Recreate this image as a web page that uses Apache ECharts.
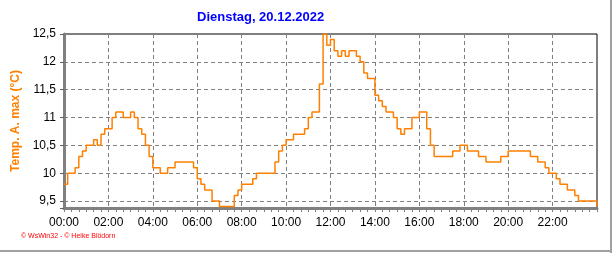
<!DOCTYPE html>
<html>
<head>
<meta charset="utf-8">
<script src="https://cdn.jsdelivr.net/npm/echarts@6/dist/echarts.min.js"></script>
<style>
html,body{margin:0;padding:0;background:#fff;}
#chart{width:616px;height:253px;}
</style>
</head>
<body>
<div id="chart"></div>
<script>
// Title and labels
const titleText = 'Dienstag, 20.12.2022';
const yAxisName = 'Temp. A. max (°C)';
const footerText = '© WsWin32 - © Heike Blödorn';

// Categories: time of day in 10-minute steps, 00:00 .. 24:00
const categories = [];
for (let h = 0; h <= 24; h++) {
  for (let m = 0; m < 60; m += 10) {
    if (h === 24 && m > 0) break;
    categories.push(String(h).padStart(2, '0') + ':' + String(m).padStart(2, '0'));
  }
}

// Temperature values (°C), one per 10 minutes
const tempMax = [
  9.8, 10.0, 10.0, 10.1, 10.3, 10.4, 10.5, 10.5, 10.6, 10.5, 10.7, 10.8,   // 00:00-01:50
  10.8, 11.0, 11.1, 11.1, 11.0, 11.0, 11.1, 11.0, 10.8, 10.7, 10.5, 10.3, // 02:00-03:50
  10.1, 10.1, 10.0, 10.0, 10.1, 10.1, 10.2, 10.2, 10.2, 10.2, 10.2, 10.1, // 04:00-05:50
  9.9, 9.8, 9.7, 9.7, 9.5, 9.5, 9.4, 9.4, 9.4, 9.4, 9.6, 9.7,             // 06:00-07:50
  9.8, 9.8, 9.8, 9.9, 10.0, 10.0, 10.0, 10.0, 10.0, 10.2, 10.4, 10.5,     // 08:00-09:50
  10.6, 10.6, 10.7, 10.7, 10.7, 10.8, 11.0, 11.1, 11.1, 11.6, 12.5, 12.3, // 10:00-11:50
  12.4, 12.2, 12.1, 12.2, 12.1, 12.2, 12.2, 12.1, 12.0, 11.8, 11.7, 11.7, // 12:00-13:50
  11.4, 11.3, 11.2, 11.1, 11.1, 11.0, 10.8, 10.7, 10.8, 10.8, 11.0, 11.0, // 14:00-15:50
  11.1, 11.1, 10.8, 10.5, 10.3, 10.3, 10.3, 10.3, 10.3, 10.4, 10.4, 10.5, // 16:00-17:50
  10.5, 10.4, 10.4, 10.4, 10.3, 10.3, 10.2, 10.2, 10.2, 10.2, 10.3, 10.3, // 18:00-19:50
  10.4, 10.4, 10.4, 10.4, 10.4, 10.4, 10.3, 10.3, 10.2, 10.2, 10.1, 10.0, // 20:00-21:50
  10.0, 9.9, 9.8, 9.8, 9.7, 9.7, 9.6, 9.5, 9.5, 9.5, 9.5, 9.5,             // 22:00-23:50
  9.4                                                                      // 24:00
];

// Axis settings
const yMin = 9.375;
const yMax = 12.5;

const chart = echarts.init(document.getElementById('chart'), null, {renderer: 'canvas'});

const font = '"Liberation Sans", Arial, sans-serif';

function fmtY(v) {
  if (Math.abs(v * 2 - Math.round(v * 2)) > 1e-6) return '';
  return String(+v.toFixed(2)).replace('.', ',');
}

const option = {
  animation: false,
  backgroundColor: '#ffffff',
  grid: {
    left: 64, right: 19, top: 34, bottom: 45,
    show: true, borderColor: '#000000', borderWidth: 1, backgroundColor: 'transparent'
  },
  xAxis: {
    type: 'category',
    data: categories,
    boundaryGap: false,
    axisLine: {show: true, onZero: false, lineStyle: {color: '#808080', width: 3}},
    axisTick: {show: true, interval: 1, length: 4, lineStyle: {color: '#808080', width: 1}},
    axisLabel: {
      interval: 11, margin: 9, color: '#000', fontSize: 12, fontFamily: font,
      formatter: function (v) { return v === '24:00' ? '' : v; }
    },
    splitLine: {
      show: true, interval: 11, showMinLine: false, showMaxLine: false,
      lineStyle: {color: '#808080', type: [4, 3], width: 1}
    }
  },
  yAxis: {
    type: 'value',
    min: yMin, max: yMax, splitNumber: 6,
    name: yAxisName,
    nameLocation: 'middle',
    nameRotate: 90,
    nameGap: 32,
    nameTextStyle: {color: '#FF8000', fontWeight: 'bold', fontSize: 12, fontFamily: font},
    axisLine: {show: true, onZero: false, lineStyle: {color: '#808080', width: 3}},
    axisTick: {show: true, length: 4, lineStyle: {color: '#606060', width: 1}},
    axisLabel: {margin: 8, color: '#000', fontSize: 12, fontFamily: font, formatter: fmtY},
    splitLine: {
      show: true, showMinLine: false, showMaxLine: false,
      lineStyle: {color: '#808080', type: [4, 3], width: 1}
    }
  },
  series: [{
    type: 'line',
    data: tempMax,
    step: 'end',
    showSymbol: false,
    lineStyle: {color: '#FF8000', width: 1.5},
    itemStyle: {color: '#FF8000'}
  }],
  graphic: [
    {
      type: 'text', left: 197, top: 11,
      style: {text: titleText, fill: '#0000FF', font: 'bold 13px ' + font}
    },
    {
      type: 'text', left: 21, top: 233,
      style: {text: footerText, fill: '#FF0000', font: '7px ' + font}
    },
    {
      type: 'line', shape: {x1: 611, y1: 0, x2: 611, y2: 253},
      style: {stroke: '#A0A0A0', lineWidth: 2}
    },
    {
      type: 'line', shape: {x1: 0, y1: 251, x2: 612, y2: 251},
      style: {stroke: '#A0A0A0', lineWidth: 2}
    }
  ]
};

chart.setOption(option);
</script>
</body>
</html>
